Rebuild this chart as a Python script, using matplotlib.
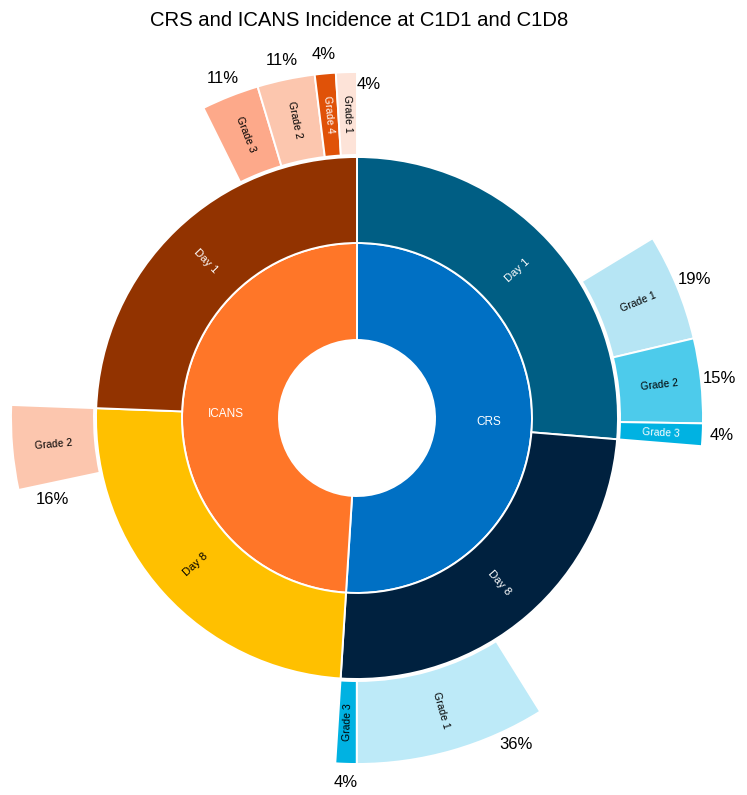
import matplotlib
matplotlib.use("Agg")
import matplotlib.pyplot as plt
from matplotlib.patches import Wedge
import numpy as np

plt.rcParams['font.family'] = ['Liberation Sans', 'DejaVu Sans']

# --- data (segments listed clockwise from 12 o'clock) ---
groups = ['CRS', 'ICANS']
group_days = [2, 2]                       # number of day-segments per group
day_labels = ['Day 1', 'Day 8', 'Day 8', 'Day 1']
day_share = [26.3, 24.7, 24.6, 24.4]      # share of the circle
grade_labels = [['Grade 1', 'Grade 2', 'Grade 3'],
                ['Grade 1', 'Grade 3'],
                ['Grade 2'],
                ['Grade 3', 'Grade 2', 'Grade 4', 'Grade 1']]
grade_pct = [[19, 15, 4],
             [36, 4],
             [16],
             [11, 11, 4, 4]]

# --- colours ---
group_colors = ['#0070C4', '#FF7628']
day_colors = ['#005E84', '#00213F', '#FFC000', '#923300']
day_text = ['white', 'white', 'black', 'white']
grade_colors = [['#B6E5F4', '#4DCBEB', '#00B2E2'],
                ['#BDEAF8', '#00B2E2'],
                ['#FCC6AE'],
                ['#FDA98A', '#FCC6AE', '#E05208', '#FDE3D8']]
grade_text = [['black', 'black', 'white'],
              ['black', 'black'],
              ['black'],
              ['black', 'black', 'white', 'black']]

# label placement tweaks for a few percentages: (segment, grade) -> (angle, radius)
pct_pos = {(3, 3): (2.0, 334), (2, 0): (255.0, 315), (1, 0): (154.0, 363)}

W, H = 747, 795
cx, cy = 357, H - 418
r_hole, r_in, r_mid, r_out0, r_out = 78, 175, 261, 263, 346

fig = plt.figure(figsize=(W / 100, H / 100), dpi=100)
ax = fig.add_axes([0, 0, 1, 1])
ax.set_xlim(0, W)
ax.set_ylim(0, H)
ax.set_aspect('equal')
ax.axis('off')


def wedge(a1, a2, r0, r1, color):
    # angles clockwise from top
    ax.add_patch(Wedge((cx, cy), r1, 90 - a2, 90 - a1, width=r1 - r0,
                       facecolor=color, edgecolor='white', linewidth=1.4))


def pos(a, r):
    t = np.deg2rad(a)
    return cx + r * np.sin(t), cy + r * np.cos(t)


def radial_rot(a):
    rot = 90 - a
    if a % 360 > 180:
        rot += 180
    return rot


edges = np.concatenate([[0], np.cumsum(day_share)]) * 3.6

# inner ring
k = 0
for g, name in enumerate(groups):
    a1, a2 = edges[k], edges[k + group_days[g]]
    wedge(a1, a2, r_hole, r_in, group_colors[g])
    mid = (a1 + a2) / 2
    x, y = pos(mid, (r_hole + r_in) / 2 + 5)
    ax.text(x, y, name, color='white', fontsize=8.5, ha='center', va='center')
    k += group_days[g]

# middle + outer rings
for i, day in enumerate(day_labels):
    a1, a2 = edges[i], edges[i + 1]
    span = a2 - a1
    wedge(a1, a2, r_in, r_mid, day_colors[i])
    mid = (a1 + a2) / 2
    x, y = pos(mid, (r_in + r_mid) / 2)
    ax.text(x, y, day, color=day_text[i], fontsize=8, ha='center', va='center',
            rotation=radial_rot(mid), rotation_mode='anchor')

    # grades sit at the clockwise end of their parent segment
    start = a2 - span * sum(grade_pct[i]) / 100
    for j, p in enumerate(grade_pct[i]):
        b1 = start
        b2 = start + span * p / 100
        start = b2
        wedge(b1, b2, r_out0, r_out, grade_colors[i][j])
        gm = (b1 + b2) / 2
        x, y = pos(gm, (r_out0 + r_out) / 2)
        ax.text(x, y, grade_labels[i][j], color=grade_text[i][j], fontsize=7.5,
                ha='center', va='center', rotation=radial_rot(gm),
                rotation_mode='anchor')
        la, lr = pct_pos.get((i, j), (gm, 365))
        x, y = pos(la, lr)
        ax.text(x, y, f'{p}%', fontsize=12, ha='center', va='center')

fig.text(359 / W, 1 - 20 / H, 'CRS and ICANS Incidence at C1D1 and C1D8',
         ha='center', va='center', fontsize=14.6)

fig.savefig('out.png', dpi=100, facecolor='white')
